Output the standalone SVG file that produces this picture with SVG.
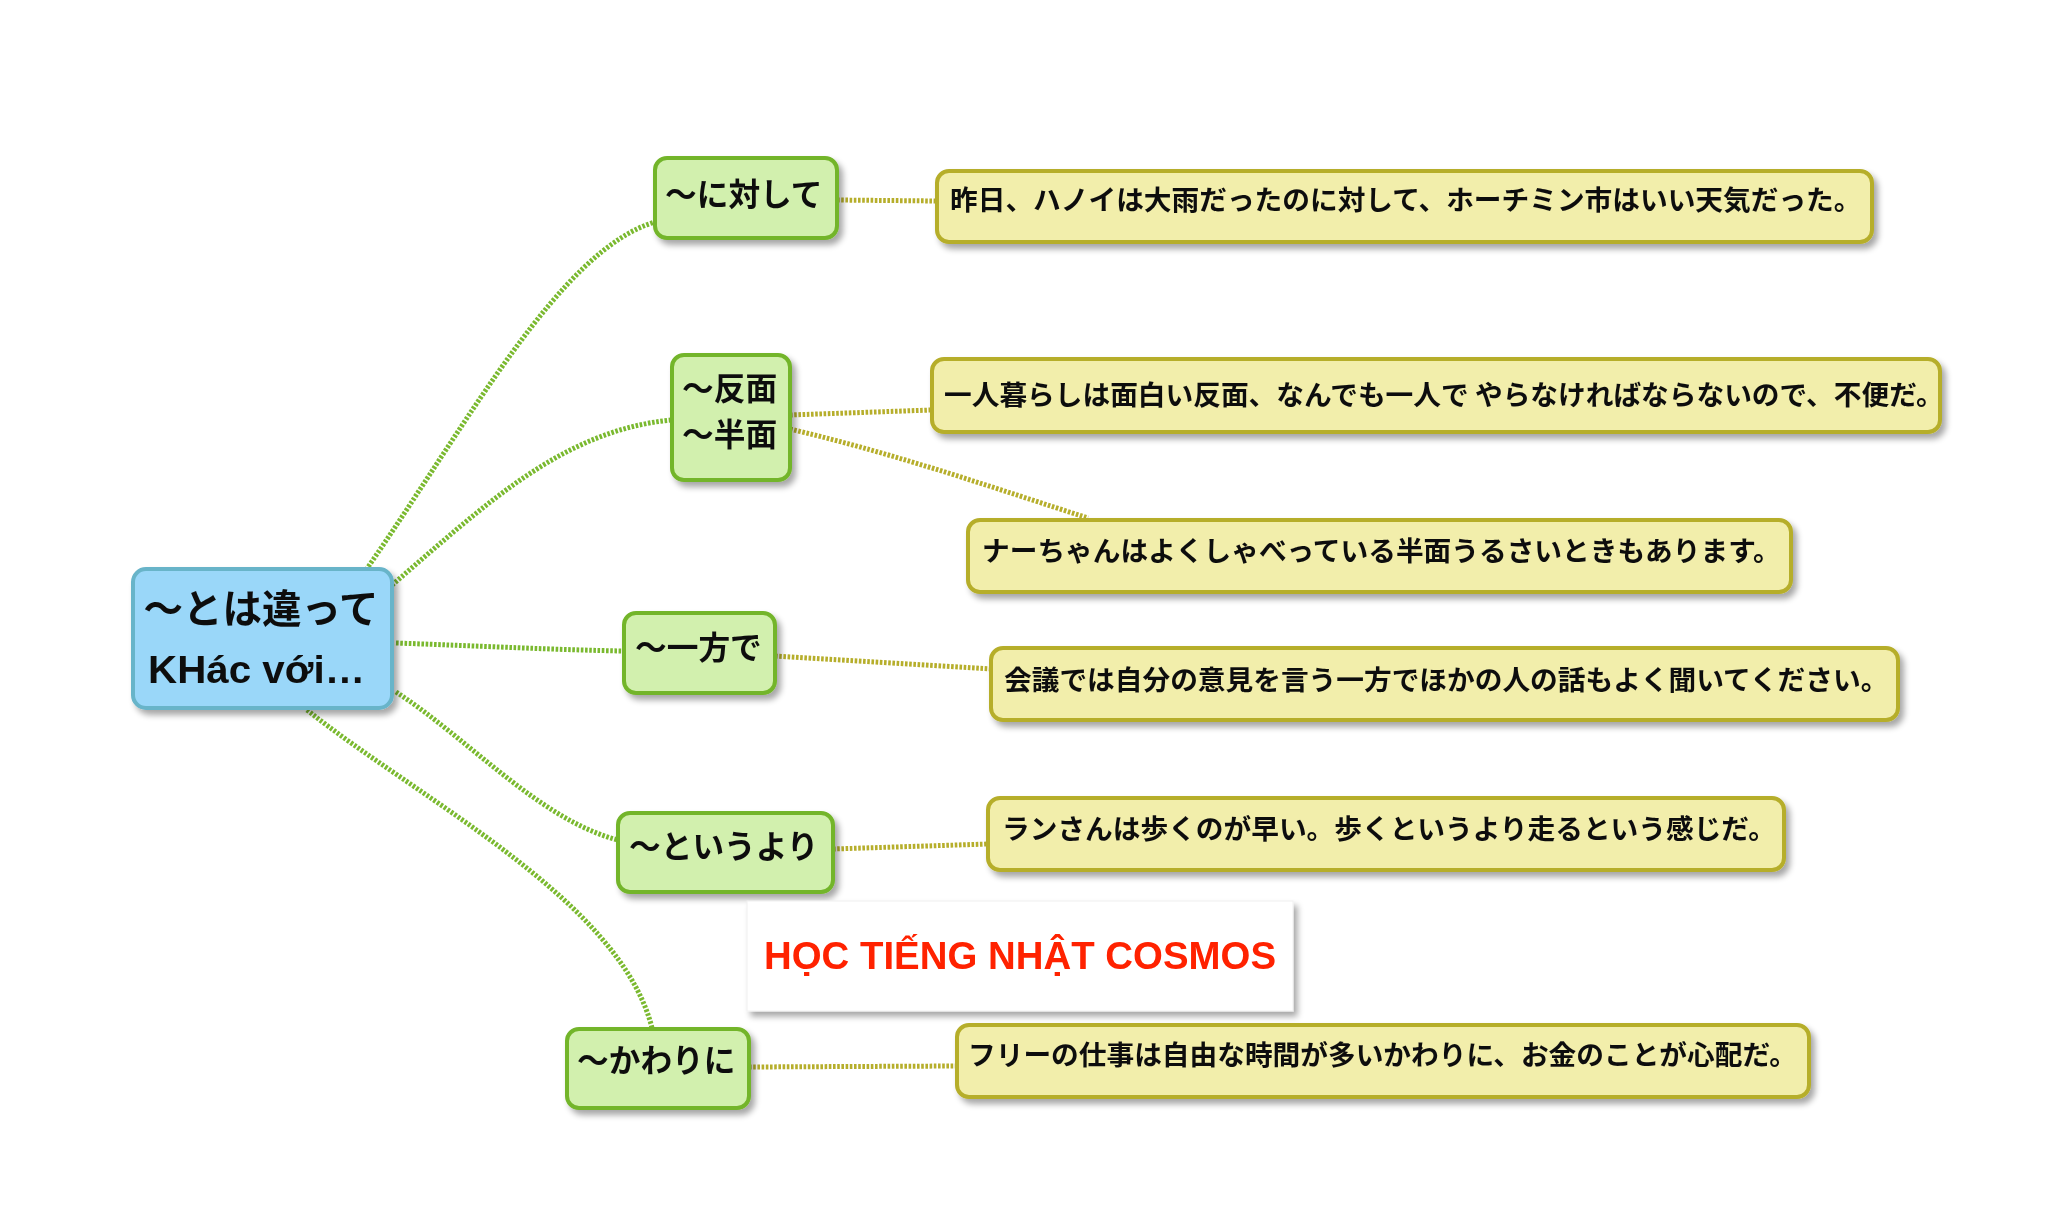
<svg xmlns="http://www.w3.org/2000/svg" width="2048" height="1208" viewBox="0 0 2048 1208">
<defs>
<filter id="sh" x="-10%" y="-20%" width="130%" height="160%">
<feGaussianBlur in="SourceAlpha" stdDeviation="3"/>
<feOffset dx="4" dy="5" result="b"/>
<feComponentTransfer><feFuncA type="linear" slope="0.35"/></feComponentTransfer>
<feMerge><feMergeNode/><feMergeNode in="SourceGraphic"/></feMerge>
</filter>
<style>
.jp{font-family:"Noto Sans CJK JP","Noto Sans CJK SC",sans-serif;font-weight:bold;fill:#111}
.lat{font-family:"Liberation Sans",Arial,sans-serif;font-weight:bold;fill:#111}
.root{fill:#9ad7f9;stroke:#68b4c9;stroke-width:4}
.br{fill:#d2f0ae;stroke:#73b52b;stroke-width:4}
.lf{fill:#f2eeab;stroke:#b6ae2b;stroke-width:4}
.cg{fill:none;stroke:#7ab92f;stroke-width:5;stroke-dasharray:2.6 1.6}
.cy{fill:none;stroke:#b6ae2b;stroke-width:5;stroke-dasharray:2.6 1.6}
.t30{font-size:31.7px}
.t27{font-size:27.7px}
</style>
</defs>
<rect width="2048" height="1208" fill="#ffffff"/>
<g id="connectors">
<path class="cg" d="M366,570 C470,420 560,250 655,222"/>
<path class="cg" d="M392,585 C480,510 560,430 672,420"/>
<path class="cg" d="M396,643 C480,646 560,650 624,651"/>
<path class="cg" d="M396,692 C470,740 540,820 618,840"/>
<path class="cg" d="M307,710 C420,800 620,900 652,1028"/>
<path class="cy" d="M837,200 L937,201"/>
<path class="cy" d="M790,415 L932,410"/>
<path class="cy" d="M790,429 C900,455 1000,490 1088,518"/>
<path class="cy" d="M775,656 L991,669"/>
<path class="cy" d="M833,849 L988,844"/>
<path class="cy" d="M749,1067 L957,1066"/>
</g>
<g id="root" filter="url(#sh)">
<rect class="root" x="133" y="569" width="259" height="139" rx="13"/>
<text class="jp" x="261" y="623" font-size="39.5" text-anchor="middle">〜とは違って</text>
<text class="lat" x="148" y="683" font-size="38" textLength="217" lengthAdjust="spacingAndGlyphs">KHác với…</text>
</g>
<g id="b1" filter="url(#sh)">
<rect class="br" x="655" y="158" width="182" height="80" rx="12"/>
<text class="jp t30" x="665" y="206">〜に対して</text>
</g>
<g id="b2" filter="url(#sh)">
<rect class="br" x="672" y="355" width="118" height="125" rx="12"/>
<text class="jp t30" x="682" y="400">〜反面</text>
<text class="jp t30" x="682" y="446">〜半面</text>
</g>
<g id="b3" filter="url(#sh)">
<rect class="br" x="624" y="613" width="151" height="80" rx="12"/>
<text class="jp t30" x="635" y="659">〜一方で</text>
</g>
<g id="b4" filter="url(#sh)">
<rect class="br" x="618" y="813" width="215" height="79" rx="12"/>
<text class="jp t30" x="629" y="858">〜というより</text>
</g>
<g id="b5" filter="url(#sh)">
<rect class="br" x="567" y="1029" width="182" height="79" rx="12"/>
<text class="jp t30" x="577" y="1072">〜かわりに</text>
</g>
<g id="l1" filter="url(#sh)">
<rect class="lf" x="937" y="171" width="935" height="71" rx="12"/>
<text class="jp t27" x="950" y="210">昨日、ハノイは大雨だったのに対して、ホーチミン市はいい天気だった。</text>
</g>
<g id="l2" filter="url(#sh)">
<rect class="lf" x="932" y="359" width="1008" height="73" rx="12"/>
<text class="jp t27" x="944" y="405">一人暮らしは面白い反面、なんでも一人で やらなければならないので、不便だ。</text>
</g>
<g id="l3" filter="url(#sh)">
<rect class="lf" x="968" y="520" width="823" height="72" rx="12"/>
<text class="jp t27" x="982" y="561">ナーちゃんはよくしゃべっている半面うるさいときもあります。</text>
</g>
<g id="l4" filter="url(#sh)">
<rect class="lf" x="991" y="648" width="907" height="72" rx="12"/>
<text class="jp t27" x="1004" y="690">会議では自分の意見を言う一方でほかの人の話もよく聞いてください。</text>
</g>
<g id="l5" filter="url(#sh)">
<rect class="lf" x="988" y="798" width="796" height="72" rx="12"/>
<text class="jp t27" x="1002" y="839">ランさんは歩くのが早い。歩くというより走るという感じだ。</text>
</g>
<g id="l6" filter="url(#sh)">
<rect class="lf" x="957" y="1025" width="852" height="72" rx="12"/>
<text class="jp t27" x="968" y="1065">フリーの仕事は自由な時間が多いかわりに、お金のことが心配だ。</text>
</g>
<g id="logo" filter="url(#sh)">
<rect x="747" y="901" width="546" height="110" fill="#ffffff" stroke="#f0f0f0" stroke-width="1"/>
<text x="764" y="969" font-family="Liberation Sans, Arial, sans-serif" font-weight="bold" font-size="38.5" fill="#ff2200" textLength="512" lengthAdjust="spacingAndGlyphs">HỌC TIẾNG NHẬT COSMOS</text>
</g>
</svg>
